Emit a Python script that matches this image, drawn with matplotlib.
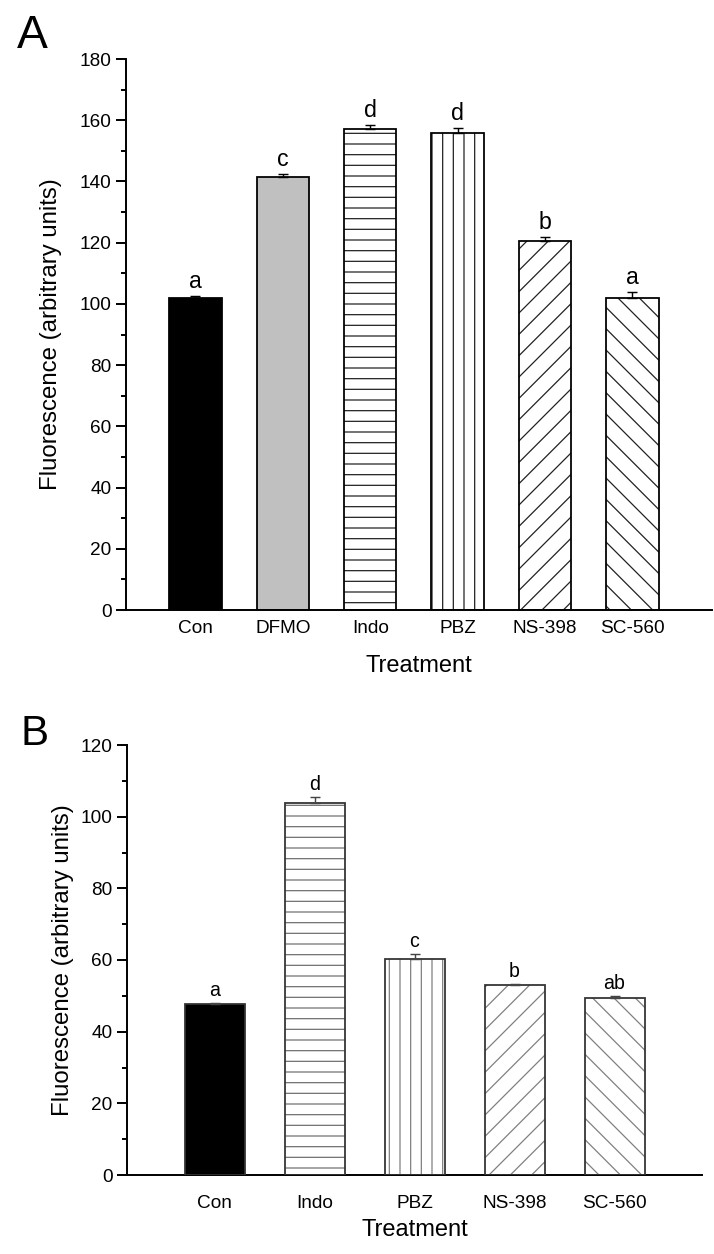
import numpy as np
import matplotlib
matplotlib.use("Agg")
import matplotlib.pyplot as plt
from matplotlib.ticker import MultipleLocator

plt.rcParams['font.family'] = ['Liberation Sans', 'DejaVu Sans']
plt.rcParams['hatch.linewidth'] = 0.7

# panel A data
cats_a = ['Con', 'DFMO', 'Indo', 'PBZ', 'NS-398', 'SC-560']
vals_a = [101.8, 141.4, 157.0, 155.8, 120.6, 102.0]
errs_a = [0.7, 0.9, 1.3, 1.5, 1.2, 1.8]
sig_a = ['a', 'c', 'd', 'd', 'b', 'a']

# panel B data
cats_b = ['Con', 'Indo', 'PBZ', 'NS-398', 'SC-560']
vals_b = [47.6, 103.8, 60.2, 53.0, 49.4]
errs_b = [0.4, 1.7, 1.5, 0.4, 0.5]
sig_b = ['a', 'd', 'c', 'b', 'ab']

DPI = 128
fig = plt.figure(figsize=(714 / DPI, 1254 / DPI), dpi=DPI)

def style_axis(ax, ymax, major, pad_x):
    for s in ['top', 'right']:
        ax.spines[s].set_visible(False)
    for s in ['left', 'bottom']:
        ax.spines[s].set_linewidth(1.1)
    ax.set_ylim(0, ymax)
    ax.yaxis.set_major_locator(MultipleLocator(major))
    ax.yaxis.set_minor_locator(MultipleLocator(major / 2))
    ax.tick_params(axis='y', which='major', direction='out', length=5.6,
                   width=1.1, labelsize=10.7, pad=2.5)
    ax.tick_params(axis='y', which='minor', direction='out', length=3,
                   width=1.1)
    ax.tick_params(axis='x', length=0, labelsize=10.7, pad=pad_x)


def draw_bars(ax, vals, errs, fills, hatches, edge, hatch_col, err_col):
    x = np.arange(len(vals))
    for i in range(len(vals)):
        # hatch layer, then outline on top
        ax.bar(x[i], vals[i], width=0.6, color=fills[i], hatch=hatches[i],
               edgecolor=hatch_col[i], linewidth=0, zorder=2)
        ax.bar(x[i], vals[i], width=0.6, color='none', edgecolor=edge,
               linewidth=1.0, zorder=3)
    ax.errorbar(x, vals, yerr=[np.zeros(len(errs)), errs], fmt='none',
                ecolor=err_col, elinewidth=0.8, capsize=2.8, capthick=0.8,
                zorder=4)
    return x


# ---- panel A
ax1 = fig.add_axes([126 / 714, 1 - 610 / 1254, 586 / 714, 551 / 1254])
fills_a = ['black', '#c0c0c0', 'white', 'white', 'white', 'white']
hatch_a = [None, None, '--', '||', '//', '\\\\']
hcol_a = ['black', 'black', '#222222', '#222222', '#222222', '#222222']
x1 = draw_bars(ax1, vals_a, errs_a, fills_a, hatch_a, 'black', hcol_a, 'black')
style_axis(ax1, 180, 20, 5.5)
ax1.set_xlim(-0.795, 5.91)
ax1.set_xticks(x1)
ax1.set_xticklabels(cats_a)
for i in range(len(vals_a)):
    ax1.annotate(sig_a[i], xy=(x1[i], vals_a[i] + errs_a[i]), xytext=(0, 4.5),
                 textcoords='offset points', ha='center', va='baseline',
                 fontsize=13)
ax1.set_xlabel('Treatment', fontsize=13.3, labelpad=10)
ax1.set_ylabel('Fluorescence (arbitrary units)', fontsize=13.5, labelpad=10)

# ---- panel B
ax2 = fig.add_axes([127 / 714, 1 - 1175 / 1254, 575 / 714, 430 / 1254])
fills_b = ['black', 'white', 'white', 'white', 'white']
hatch_b = [None, '--', '||', '//', '\\\\']
hcol_b = ['black', '#707070', '#808080', '#808080', '#808080']
x2 = draw_bars(ax2, vals_b, errs_b, fills_b, hatch_b, '#333333', hcol_b, '#444444')
style_axis(ax2, 120, 20, 11)
ax2.set_xlim(-0.875, 4.875)
ax2.set_xticks(x2)
ax2.set_xticklabels(cats_b)
for i in range(len(vals_b)):
    ax2.annotate(sig_b[i], xy=(x2[i], vals_b[i] + errs_b[i]), xytext=(0, 4),
                 textcoords='offset points', ha='center', va='baseline',
                 fontsize=11)
ax2.set_xlabel('Treatment', fontsize=13.3, labelpad=4)
ax2.set_ylabel('Fluorescence (arbitrary units)', fontsize=13.5, labelpad=4)

fig.text(17 / 714, 1 - 48 / 1254, 'A', fontsize=26, va='baseline', ha='left')
fig.text(20 / 714, 1 - 745 / 1254, 'B', fontsize=23.6, va='baseline', ha='left')

fig.savefig('out.png', dpi=DPI, facecolor='white')
